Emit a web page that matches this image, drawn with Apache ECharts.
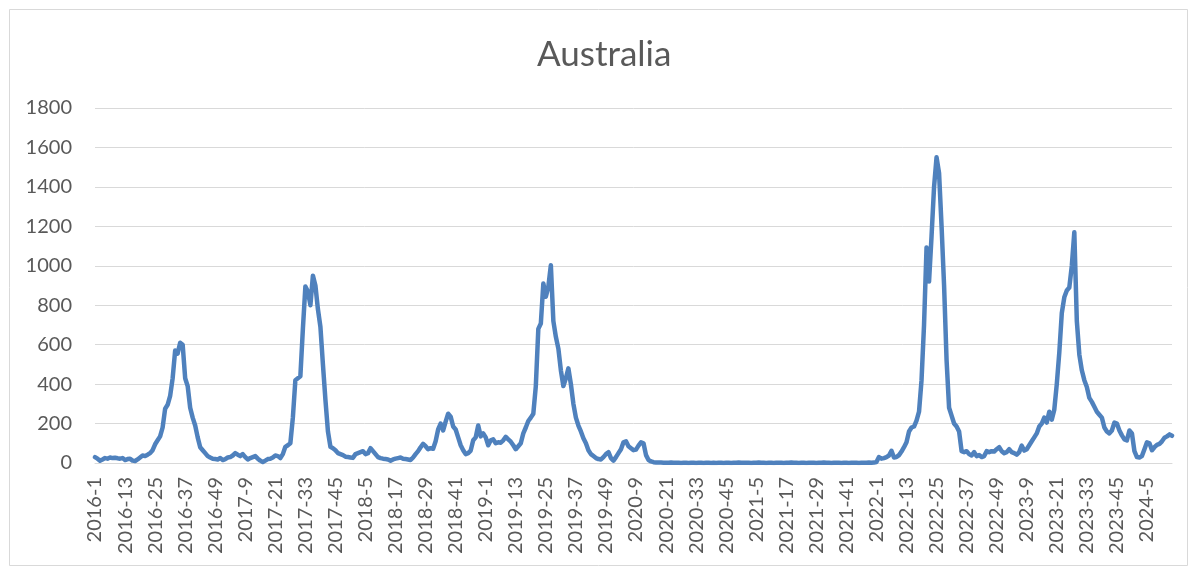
<!DOCTYPE html>
<html>
<head>
<meta charset="utf-8">
<script src="https://cdn.jsdelivr.net/npm/echarts@6/dist/echarts.min.js"></script>
<style>
  html, body { margin: 0; padding: 0; background: #ffffff; }
  #chart { width: 1197px; height: 574px; }
</style>
</head>
<body>
<div id="chart"></div>
<script>
// Weekly counts, one array per year (ISO-style week 1..52)
const years = [2016, 2017, 2018, 2019, 2020, 2021, 2022, 2023, 2024];

const w2016 = [30, 22, 12, 18, 25, 22, 28, 25, 27, 24, 22, 25, 15, 20, 22, 12, 10, 18, 28, 38,
  35, 42, 50, 65, 95, 115, 135, 180, 275, 295, 340, 430, 570, 555, 610, 600, 430, 390, 280, 230,
  190, 130, 80, 65, 50, 35, 28, 22, 20, 18, 25, 15];
const w2017 = [20, 28, 30, 38, 50, 42, 35, 45, 30, 18, 25, 30, 35, 22, 12, 5, 12, 20, 22, 28,
  38, 35, 25, 45, 82, 90, 100, 230, 420, 430, 440, 680, 895, 870, 800, 950, 900, 780, 690, 500,
  320, 160, 82, 75, 65, 50, 45, 40, 32, 30, 28, 26];
const w2018 = [45, 50, 55, 60, 45, 50, 75, 60, 45, 30, 25, 22, 20, 18, 12, 18, 22, 25, 28, 22,
  20, 18, 15, 28, 45, 60, 80, 97, 85, 70, 75, 72, 110, 170, 200, 165, 210, 250, 235, 185,
  170, 130, 90, 65, 45, 50, 63, 115, 130, 190, 135, 150];
const w2019 = [130, 90, 115, 120, 100, 105, 103, 115, 133, 120, 108, 90, 70, 85, 100, 150, 180, 213, 230, 250,
  390, 680, 707, 910, 843, 893, 1003, 720, 640, 580, 470, 390, 430, 480, 400, 300, 230, 190, 160, 125,
  100, 65, 45, 35, 25, 20, 18, 30, 45, 55, 25, 12];
const w2020 = [30, 50, 70, 105, 110, 85, 75, 65, 68, 88, 105, 100, 40, 15, 8, 4, 3, 2, 2, 1,
  1, 1, 2, 1, 1, 1, 0, 1, 1, 0, 1, 1, 0, 1, 1, 0, 1, 1, 0, 1,
  0, 1, 1, 0, 1, 1, 0, 1, 1, 2, 1, 1];
const w2021 = [1, 1, 0, 1, 1, 2, 1, 1, 0, 1, 1, 0, 1, 1, 1, 0, 1, 1, 2, 1,
  1, 0, 1, 1, 0, 1, 1, 1, 0, 1, 1, 2, 1, 1, 0, 1, 1, 1, 0, 1,
  1, 0, 1, 1, 1, 0, 1, 1, 1, 2, 1, 2];
const w2022 = [5, 30, 22, 25, 30, 38, 62, 28, 30, 40, 58, 80, 105, 160, 180, 185, 215, 260, 420, 700,
  1093, 920, 1150, 1400, 1550, 1470, 1200, 900, 520, 280, 240, 200, 185, 160, 60, 55, 60, 45, 38, 55,
  35, 40, 30, 35, 60, 55, 60, 58, 70, 80, 60, 50];
const w2023 = [55, 70, 55, 50, 42, 55, 88, 63, 70, 90, 110, 130, 150, 185, 200, 230, 205, 260, 220, 270,
  400, 560, 760, 840, 875, 890, 1000, 1170, 720, 550, 470, 420, 385, 330, 310, 285, 260, 245, 230, 180,
  160, 150, 165, 205, 200, 165, 140, 120, 115, 165, 150, 60];
const w2024 = [30, 28, 35, 70, 105, 100, 65, 80, 92, 97, 110, 128, 135, 145, 138];

const yearValues = [w2016, w2017, w2018, w2019, w2020, w2021, w2022, w2023, w2024];

// Category labels "year-week" for every weekly value
const categories = [];
const values = [];
years.forEach((y, k) => {
  yearValues[k].forEach((v, w) => {
    categories.push(y + '-' + (w + 1));
    values.push(v);
  });
});

const chartTitle = 'Australia';
const yTicks = { min: 0, max: 1800, step: 200 };

const textColor = '#595959';
const gridColor = '#d9d9d9';
const fontFamily = 'Lato, "Open Sans", sans-serif';

const chart = echarts.init(document.getElementById('chart'), null, { renderer: 'canvas' });

chart.setOption({
  animation: false,
  backgroundColor: '#ffffff',
  title: {
    text: chartTitle,
    left: 532,
    top: 32,
    textStyle: { color: textColor, fontSize: 35, fontWeight: 'normal', fontFamily: fontFamily }
  },
  graphic: [{
    type: 'rect',
    shape: { x: 9.5, y: 9.5, width: 1178, height: 556 },
    style: { fill: 'none', stroke: gridColor, lineWidth: 1 },
    silent: true
  }],
  grid: { left: 95, right: 25, top: 108, bottom: 111, containLabel: false },
  xAxis: {
    type: 'category',
    data: categories,
    boundaryGap: false,
    axisLine: { show: true, lineStyle: { color: gridColor, width: 1 } },
    axisTick: { show: false },
    axisLabel: {
      interval: 11,
      rotate: 90,
      margin: 14,
      color: textColor,
      fontSize: 20,
      fontFamily: fontFamily
    },
    splitLine: { show: false }
  },
  yAxis: {
    type: 'value',
    min: yTicks.min,
    max: yTicks.max,
    interval: yTicks.step,
    axisLine: { show: false },
    axisTick: { show: false },
    axisLabel: {
      color: textColor, fontSize: 20, margin: 23, fontFamily: fontFamily,
      formatter: (v) => String(v)
    },
    splitLine: { lineStyle: { color: gridColor, width: 1 } }
  },
  series: [{
    name: chartTitle,
    type: 'line',
    data: values,
    showSymbol: false,
    symbol: 'none',
    lineStyle: { color: '#4f81bd', width: 4.5, cap: 'round', join: 'round' },
    itemStyle: { color: '#4f81bd' }
  }]
});
</script>
</body>
</html>
